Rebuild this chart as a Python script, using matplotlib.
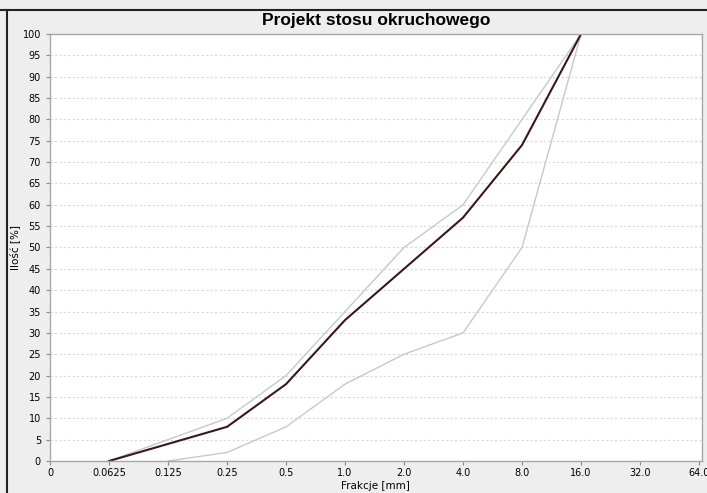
import matplotlib
matplotlib.use("Agg")
import matplotlib.pyplot as plt
from matplotlib.lines import Line2D

categories = ["0", "0.0625", "0.125", "0.25", "0.5", "1.0", "2.0", "4.0", "8.0", "16.0", "32.0", "64.0"]

upper_x = ["0.0625", "0.25", "0.5", "1.0", "2.0", "4.0", "8.0", "16.0"]
upper_y = [0, 10, 20, 35, 50, 60, 80, 100]

design_x = ["0.0625", "0.25", "0.5", "1.0", "2.0", "4.0", "8.0", "16.0"]
design_y = [0, 8, 18, 33, 45, 57, 74, 100]

lower_x = ["0.125", "0.25", "0.5", "1.0", "2.0", "4.0", "8.0", "16.0"]
lower_y = [0, 2, 8, 18, 25, 30, 50, 100]

yticks = list(range(0, 101, 5))

pos = {c: i for i, c in enumerate(categories)}

fig = plt.figure(figsize=(7.07, 4.93), dpi=100, facecolor="#eeeeee")
ax = fig.add_axes([50/707, 1-461/493, (702-50)/707, (461-34)/493])
ax.set_facecolor("white")

ax.plot([pos[c] for c in upper_x], upper_y, color="#c8c8c8", lw=1.0)
ax.plot([pos[c] for c in lower_x], lower_y, color="#c8c8c8", lw=1.0)
ax.plot([pos[c] for c in design_x], design_y, color="#3a1818", lw=1.5)

ax.set_xlim(0, 11.05)
ax.set_ylim(0, 100)
ax.set_xticks(range(len(categories)))
ax.set_xticklabels(categories)
ax.set_yticks(yticks)
ax.set_yticklabels([str(v) for v in yticks])
ax.tick_params(labelsize=7, length=3, color="#888888")
ax.tick_params(axis="x", pad=2)
ax.yaxis.grid(True, linestyle=(0, (2, 2)), color="#d8d8d8", lw=0.8)
ax.set_axisbelow(True)
for s in ax.spines.values():
    s.set_color("#a8a8a8")
    s.set_linewidth(1.0)

ax.set_xlabel("Frakcje [mm]", fontsize=7.5)
ax.xaxis.set_label_coords((375-50)/652, -(481-461)/427)
ax.set_ylabel("Ilość [%]", fontsize=7.5)
ax.yaxis.set_label_coords((20-50)/652, 0.5)
fig.text(376/707, 1-21/493, "Projekt stosu okruchowego", ha="center", va="center",
         fontsize=12.5, fontweight="bold", family="Liberation Sans")

fig.add_artist(Line2D([0, 1], [1-10/493, 1-10/493], transform=fig.transFigure, color="#222222", lw=1.5))
fig.add_artist(Line2D([7/707, 7/707], [0, 1-10/493], transform=fig.transFigure, color="#222222", lw=1.5))

fig.savefig("out.png", dpi=100, facecolor=fig.get_facecolor())
